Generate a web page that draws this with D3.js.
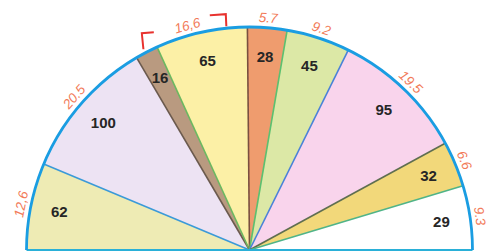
<!DOCTYPE html>
<html>
<head>
<meta charset="utf-8">
<script src="https://cdn.jsdelivr.net/npm/d3@7"></script>
<style>
html, body { margin: 0; padding: 0; background: #fff; }
svg { display: block; }
</style>
</head>
<body>
<div id="chart"></div>
<script>
// counts written inside each slice
var counts = [62, 100, 16, 65, 28, 45, 95, 32, 29];
// share of the half circle, in percent
var shares = [12.6, 20.5, 3.3, 13.3, 5.7, 9.2, 19.5, 6.6, 9.3];
// which rim label each slice belongs to
var rimGroup = [0, 1, 2, 2, 3, 4, 5, 6, 7];
var rimLabels = ["12,6", "20.5", "16,6", "5.7", "9.2", "19.5", "6.6", "9.3"];
var bracketGroup = 2; // the 16 + 65 pair

var fills = ["#eeebb4", "#ede3f3", "#b99a80", "#fcf0a6", "#ef9c6e", "#dce8a6", "#f9d4ec", "#f2d87a", "#ffffff"];
// radial line that closes each slice on its left side (index 0 = bottom diameter)
var edgeColors = ["#2ab0d8", "#3b9ad8", "#6b5a4e", "#6cb860", "#7a5040", "#5cc070", "#4a82d8", "#5f6e50", "#50b488"];

var W = 489, H = 252;
var cx = 249.5, cy = 250, r = 223;

var svg = d3.select("#chart").append("svg")
	.attr("width", W).attr("height", H);
var g = svg.append("g").attr("transform", "translate(" + cx + "," + cy + ")");

var data = counts.map(function(c, i){ return {count: c, share: shares[i], group: rimGroup[i]}; });

var pie = d3.pie().sort(null).value(function(d){ return d.share; })
	.startAngle(-Math.PI / 2).endAngle(Math.PI / 2);
var arcs = pie(data);
var arc = d3.arc().innerRadius(0).outerRadius(r);

function polar(a, rad){ return [rad * Math.sin(a), -rad * Math.cos(a)]; }
function deg(a){ return a * 180 / Math.PI; }

// slices
g.selectAll("path.slice").data(arcs).enter().append("path")
	.attr("class", "slice")
	.attr("d", arc)
	.attr("fill", function(d, i){ return fills[i]; });

// radial edges
arcs.forEach(function(d, i){
	if (i === 0) return;
	var p = polar(d.startAngle, r);
	g.append("line").attr("x1", 0).attr("y1", 0).attr("x2", p[0]).attr("y2", p[1])
		.attr("stroke", edgeColors[i]).attr("stroke-width", 1.6);
});

// diameter
g.append("line").attr("x1", -r).attr("y1", 0).attr("x2", r).attr("y2", 0)
	.attr("stroke", edgeColors[0]).attr("stroke-width", 2.2);

// outer rim
g.append("path")
	.attr("d", d3.arc().innerRadius(r).outerRadius(r).startAngle(-Math.PI / 2).endAngle(Math.PI / 2)())
	.attr("fill", "none").attr("stroke", "#1a9de2").attr("stroke-width", 2.8);

// counts
g.selectAll("text.count").data(arcs).enter().append("text")
	.attr("class", "count")
	.attr("transform", function(d){
		var m = (d.startAngle + d.endAngle) / 2;
		var p = polar(m, 194);
		return "translate(" + p[0] + "," + p[1] + ")";
	})
	.attr("text-anchor", "middle").attr("dy", "0.36em")
	.attr("font-family", "Liberation Sans, Arial, sans-serif")
	.attr("font-weight", "bold").attr("font-size", 15).attr("fill", "#262626")
	.text(function(d){ return d.data.count; });

// rim labels, centred on each group
var groups = rimLabels.map(function(t, k){
	var members = arcs.filter(function(d){ return d.data.group === k; });
	return {
		text: t,
		start: members[0].startAngle,
		end: members[members.length - 1].endAngle
	};
});

g.selectAll("text.rim").data(groups).enter().append("text")
	.attr("class", "rim")
	.attr("transform", function(d){
		var m = (d.start + d.end) / 2;
		var p = polar(m, r + 10);
		return "translate(" + p[0] + "," + p[1] + ") rotate(" + deg(m) + ")";
	})
	.attr("text-anchor", "middle").attr("dy", "0.35em")
	.attr("font-family", "Liberation Sans, Arial, sans-serif")
	.attr("font-style", "italic").attr("font-size", 13.5).attr("fill", "#f27a58")
	.text(function(d){ return d.text; });

// red bracket round the 16 + 65 pair
var bg = groups[bracketGroup];
var inset = 4 * Math.PI / 180;
var pl = polar(bg.start + inset, r + 19);
var pr = polar(bg.end - 5.2 * Math.PI / 180, r + 14);
var bracket = g.append("g").attr("fill", "none").attr("stroke", "#e8322e")
	.attr("stroke-width", 2).attr("stroke-linecap", "square");
bracket.append("path").attr("d", "M" + (pl[0] + 1.5) + "," + (pl[1] + 15) + " L" + pl[0] + "," + pl[1] + " L" + (pl[0] + 11) + "," + (pl[1] - 1));
bracket.append("path").attr("d", "M" + (pr[0] - 15) + "," + (pr[1] + 1) + " L" + pr[0] + "," + pr[1] + " L" + (pr[0] + 0.5) + "," + (pr[1] + 11));
</script>
</body>
</html>
